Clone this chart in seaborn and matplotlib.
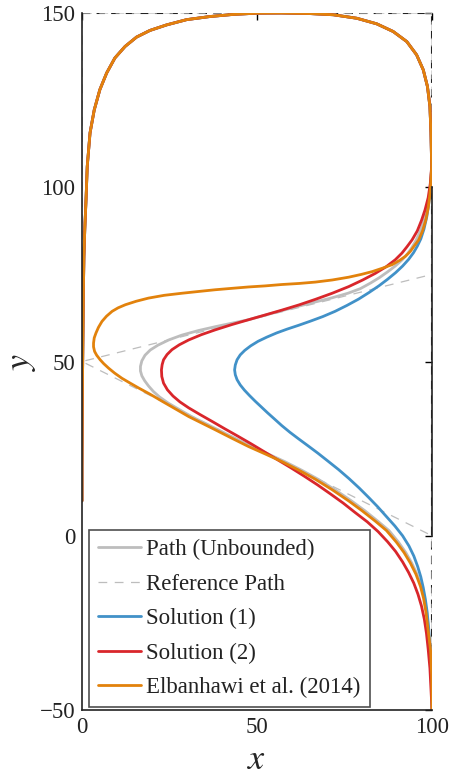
import matplotlib
matplotlib.use("Agg")
import matplotlib.pyplot as plt
import seaborn as sns

# ---------------- data ----------------
# shared upper part of every path (right wall -> top -> left wall)
top_x = [99.9, 99.7, 99.4, 98.7, 97.5, 95.6, 92.8, 88.9, 84.2, 78.5, 71.8, 65, 57, 49.9, 43.2, 36.6,
         29.9, 24.2, 19.4, 15.6, 12.3, 9.4, 7.05, 5.1, 3.5, 2.3, 1.5, 1.15, 0.8, 0.55, 0.4, 0.3, 0.2,
         0.1, 0.05, 0.0, 0.0]
top_y = [106.0, 115.6, 123.2, 128.9, 133.7, 138.0, 141.8, 144.7, 146.9, 148.5, 149.5, 149.85, 150.0,
         149.95, 149.6, 149.0, 148.1, 146.6, 145.0, 143.1, 140.4, 137.1, 132.8, 128.0, 122.2, 115.6,
         106.0, 96.4, 88, 80, 70, 60, 50, 40, 30, 20, 10]

# Path (Unbounded) - lower part
gray_x = [100, 99.9, 99.65, 99.1, 98.5, 97.8, 96.9, 95.7, 94.2, 92.5, 90.4, 87.7, 84.5, 80.8, 77.0,
          72.3, 67.5, 62.8, 57.9, 53.1, 48.4, 43.6, 38.9, 35.1, 31.3, 27.5, 24.6, 22.2, 20.4, 19.0, 17.9,
          17.1, 16.7, 16.7, 17.1, 18.0, 19.5, 21.7, 24.8, 28.6, 33.3, 38.1, 42.8, 47.6, 52.3, 57.1, 62.0,
          66.7, 71.5, 76.0, 79.5, 82.4, 85.0, 87.4, 89.5, 91.4, 93.0, 94.3, 95.4, 96.6, 97.7, 98.6, 99.2,
          99.6]
gray_y = [-50, -40, -33, -28, -22.1, -18, -14.5, -11, -7.8, -4.8, -1.8, 1.5, 4.2, 7.2, 10,
          13.2, 16.2, 18.8, 21.3, 23.5, 25.6, 28, 30.4, 32.3, 34.2, 36.4, 38.1, 39.8, 41.4, 43.0, 44.5,
          45.9, 47.3, 48.6, 50.2, 51.8, 53.3, 54.7, 56.2, 57.6, 58.9, 60.0, 61.0, 62.0, 63.3, 64.6, 65.9,
          67.1, 68.3, 69.6, 70.9, 72.5, 74.1, 75.8, 77.4, 79.1, 80.9, 82.8, 84.7, 87.3, 90.4, 93.5, 97,
          101]

# Reference Path
ref_x = [100, 100, 0, 100, 100, 0, 0]
ref_y = [-50, 0, 50, 75, 150, 150, 10]

# Solution (1)
blue_x = [100, 99.8, 99.6, 99.3, 99.0, 98.6, 98.1, 97.5, 96.8, 95.9, 94.8, 93.4, 91.6, 89.4, 86.9,
          84.5, 81.9, 79.2, 76.3, 73.3, 70.3, 67.4, 64.6, 61.9, 59.4, 57.1, 55.0, 53.0, 51.2, 49.5, 47.9,
          46.4, 45.2, 44.3, 43.8, 43.6, 43.8, 44.3, 45.2, 46.5, 48.2, 50.3, 52.8, 55.6, 58.6, 61.9, 65.3,
          68.8, 72.3, 75.7, 79.0, 82.0, 84.8, 87.3, 89.6, 91.6, 93.3, 94.7, 95.8, 96.8, 97.7, 98.5, 99.1,
          99.6]
blue_y = [-50, -42, -36, -30.5, -26, -21.8, -18.2, -14.9, -11.8, -8.8, -5.8, -2.9, 0.0, 2.8, 5.6,
          8.3, 11.0, 13.7, 16.4, 19.0, 21.4, 23.7, 25.8, 27.8, 29.7, 31.6, 33.5, 35.3, 37.0, 38.6, 40.2,
          41.8, 43.3, 44.8, 46.2, 47.6, 49.0, 50.5, 51.9, 53.2, 54.5, 55.8, 57.0, 58.2, 59.3, 60.4, 61.6,
          62.9, 64.4, 66.1, 67.9, 69.8, 71.7, 73.6, 75.5, 77.4, 79.3, 81.2, 83.1, 85.2, 88, 91.5, 95.5,
          100]

# Solution (2)
red_x = [100, 99.7, 99.4, 98.9, 98.4, 97.8, 97.0, 96.0, 94.8, 93.3, 91.6, 89.6, 87.3, 84.6, 81.5,
         78.0, 74.6, 71.0, 67.3, 63.5, 59.7, 55.9, 52.1, 48.3, 44.5, 40.8, 37.2, 33.7, 30.5, 28.0, 26.0,
         24.4, 23.3, 22.8, 22.7, 22.9, 23.3, 24.3, 25.7, 27.8, 30.5, 34.1, 38.1, 42.8, 47.6, 52.3, 57.1,
         62.0, 66.7, 71.5, 76.2, 80.2, 83.8, 86.9, 89.5, 91.4, 92.9, 94.3, 95.8, 97.0, 98.0, 98.9, 99.5]
red_y = [-50, -44, -38, -32.5, -27.9, -23.9, -20.2, -16.8, -13.6, -10.5, -7.5, -4.5, -1.7, 1.2, 4.0,
         6.7, 9.4, 12.0, 14.6, 17.1, 19.5, 21.8, 24.1, 26.4, 28.6, 30.7, 32.8, 34.8, 36.7, 38.4, 40.1,
         41.9, 43.8, 45.7, 47.6, 49.1, 50.5, 52.0, 53.4, 54.8, 56.2, 57.7, 59.1, 60.6, 62.0, 63.35, 64.75,
         66.25, 67.85, 69.6, 71.5, 73.4, 75.3, 77.2, 79.2, 81.1, 83.0, 84.9, 87.5, 90.5, 93.5, 97, 101]

# Elbanhawi et al. (2014)
orng_x = [100, 99.9, 99.6, 99.0, 98.3, 97.6, 96.7, 95.4, 93.8, 92, 89.8, 87, 83.8, 80, 76.2, 71.5,
          66.7, 62, 57.1, 52.3, 47.6, 42.8, 38.1, 34.3, 30.5, 26.7, 22.9, 19.5, 16.2, 13.6, 11.4, 9.3,
          7.6, 6.2, 5.2, 4.2, 3.6, 3.3, 3.3, 3.5, 4.0, 4.7, 5.7, 7.0, 8.6, 10.3, 12.4, 15.5, 19.0, 23.5,
          28.6, 33.3, 38.1, 42.8, 47.6, 52.3, 57.1, 62, 66.7, 71.5, 76.2, 79.8, 82.9, 85.9, 88.6, 90.7,
          92.4, 93.8, 94.8, 96.2, 97.3, 98.2, 98.9, 99.4, 99.7]
orng_y = [-50, -40, -33, -28, -22.1, -18, -14.5, -11, -7.8, -4.8, -1.8, 1.5, 4.2, 7.2, 10, 13.2,
          16.2, 18.8, 21.3, 23.5, 25.6, 28, 30.4, 32.3, 34.2, 36.4, 38.6, 40.6, 42.4, 43.9, 45.2, 46.7,
          48.1, 49.4, 50.5, 51.8, 52.9, 54.2, 55.3, 56.8, 58.2, 59.8, 61.5, 63.0, 64.4, 65.4, 66.3, 67.3,
          68.2, 69.0, 69.6, 70.1, 70.6, 71.0, 71.4, 71.7, 72.1, 72.4, 72.8, 73.4, 74.2, 75.0, 75.8, 76.8,
          77.8, 79.0, 80.2, 81.6, 83.0, 84.9, 87.5, 90.5, 94, 98, 102]

labels = ["Path (Unbounded)", "Reference Path", "Solution (1)", "Solution (2)", "Elbanhawi et al. (2014)"]
colors = ["#bdbdbd", "#bdbdbd", "#4191c8", "#d9262b", "#e2820c"]

x_ticks = [0, 50, 100]
y_ticks = [-50, 0, 50, 100, 150]

# ---------------- style ----------------
sns.set_theme(style="white")
plt.rcParams["font.family"] = ["Liberation Serif", "DejaVu Serif"]
plt.rcParams["mathtext.fontset"] = "stix"
plt.rcParams["axes.unicode_minus"] = True

fig = plt.figure(figsize=(4.56, 7.8), dpi=100)
ax = fig.add_axes([0.1798, 0.0897, 0.7676, 0.8936])

lw = 2.0
series = [
    (gray_x + top_x, gray_y + top_y, colors[0], "-", lw, labels[0]),
    (ref_x, ref_y, colors[1], (0, (7, 6)), 0.9, labels[1]),
    (blue_x + top_x, blue_y + top_y, colors[2], "-", lw, labels[2]),
    (red_x + top_x, red_y + top_y, colors[3], "-", lw, labels[3]),
    (orng_x + top_x, orng_y + top_y, colors[4], "-", lw, labels[4]),
]
for xs, ys, c, ls, w, lab in series:
    sns.lineplot(x=xs, y=ys, sort=False, estimator=None, color=c, linestyle=ls,
                 linewidth=w, label=lab, ax=ax)

# boundaries (dashed black)
ax.axhline(150, color="#222222", lw=1.5, ls=(0, (4, 3)), zorder=1)
ax.axvline(100, color="#222222", lw=1.5, ls=(0, (4, 3)), zorder=1)

ax.set_xlim(0, 100)
ax.set_ylim(-50, 150)
ax.set_xticks(x_ticks)
ax.set_yticks(y_ticks)
ax.tick_params(direction="in", length=5, width=1, top=True, right=True,
               labelsize=16.5, colors="black", pad=5)
for lab in ax.get_xticklabels() + ax.get_yticklabels():
    lab.set_color("#222222")

ax.spines["top"].set_visible(False)
ax.spines["right"].set_bounds(0, 100)
for s in ["left", "bottom", "right"]:
    ax.spines[s].set_color("#222222")
    ax.spines[s].set_linewidth(1.2)

ax.set_xlabel("$x$", fontsize=26, labelpad=4)
ax.set_ylabel("$y$", fontsize=26, labelpad=1)

leg = ax.legend(loc="lower left", bbox_to_anchor=(0.02, 0.004), borderaxespad=0,
                fontsize=16.5, frameon=True, fancybox=False, handlelength=1.85,
                handletextpad=0.25, labelspacing=0.58, borderpad=0.4)
leg.get_frame().set_edgecolor("#222222")
leg.get_frame().set_linewidth(1.2)
for t in leg.get_texts():
    t.set_color("#222222")

fig.savefig("out.png", dpi=100)
